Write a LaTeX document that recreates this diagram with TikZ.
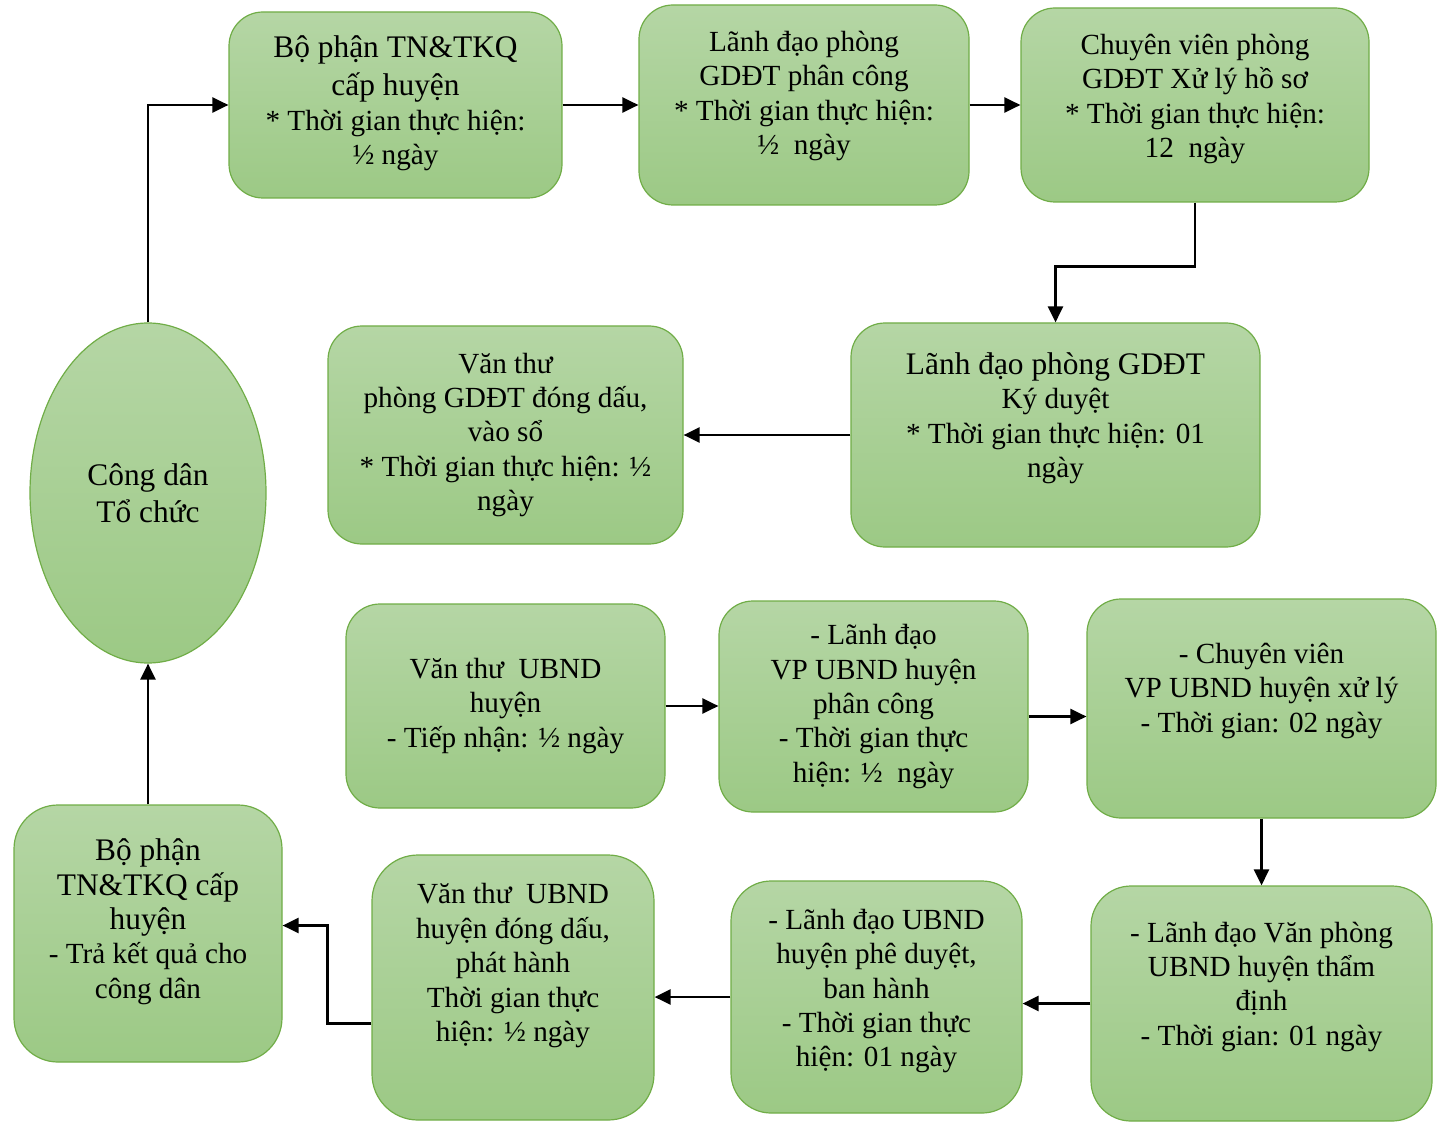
\documentclass[tikz,border=0pt]{standalone}
\usepackage{fontspec}
\setmainfont{Liberation Serif}
\usetikzlibrary{arrows.meta,shapes.geometric}
\definecolor{boxtop}{HTML}{B5D6A5}
\definecolor{boxbot}{HTML}{9CC985}
\definecolor{boxline}{HTML}{70AD47}
\newcommand\bigtxt{\fontsize{15.7}{18.5}\selectfont}

\begin{document}
\begin{tikzpicture}[x=0.5pt,y=-0.5pt,
  box/.style={draw=boxline,line width=0.6pt,top color=boxtop,bottom color=boxbot,
    rounded corners=17pt,align=center,inner sep=0pt,
    font=\fontsize{14.6}{17.2}\selectfont},
  lift/.style={text depth=#1},
  arr/.style={line width=1.2pt,-{Triangle[length=8pt,width=7.5pt]}}]
\useasboundingbox (0,0) rectangle (1438,1128);
% top row
\node [box,lift=5pt,minimum width=166.5pt,minimum height=93pt] (bp1) at (395.5,105)
  {{\bigtxt Bộ phận TN\&TKQ}\\[2pt]{\bigtxt cấp huyện}\\* Thời gian thực hiện:\\½ ngày};
\node [box,lift=12pt,minimum width=165pt,minimum height=100pt] (ld1) at (804,105)
  {Lãnh đạo phòng\\GDĐT phân công\\* Thời gian thực hiện:\\½~ ngày};
\node [box,lift=9pt,minimum width=174pt,minimum height=97pt] (cv1) at (1195,105)
  {Chuyên viên phòng\\GDĐT Xử lý hồ sơ\\* Thời gian thực hiện:\\12~ ngày};
% second row
\node [box,lift=20pt,minimum width=204.5pt,minimum height=112pt] (ld2) at (1055.5,435)
  {{\bigtxt Lãnh đạo phòng GDĐT}\\Ký duyệt\\* Thời gian thực hiện: 01\\ngày};
\node [box,minimum width=177.5pt,minimum height=109pt] (vt1) at (505.5,435)
  {Văn thư\\phòng GDĐT đóng dấu,\\vào sổ\\* Thời gian thực hiện: ½\\ngày};
\node [box,ellipse,font=\bigtxt,minimum width=118pt,minimum height=170pt] (cd) at (148,493)
  {Công dân\\Tổ chức};
% third row
\node [box,minimum width=159.5pt,minimum height=102pt] (vt2) at (505.5,706)
  {Văn thư~ UBND\\huyện\\- Tiếp nhận: ½ ngày};
\node [box,minimum width=154.5pt,minimum height=105.5pt] (ld3) at (873.5,706.5)
  {- Lãnh đạo\\VP UBND huyện\\phân công\\- Thời gian thực\\hiện: ½~ ngày};
\node [box,lift=21pt,minimum width=174.5pt,minimum height=109.5pt] (cv2) at (1261.5,708.5)
  {- Chuyên viên\\VP UBND huyện xử lý\\- Thời gian: 02 ngày};
% bottom row
\node [box,lift=20pt,rounded corners=20pt,minimum width=170.5pt,minimum height=117.5pt] (ld4) at (1261.5,1003.5)
  {- Lãnh đạo Văn phòng\\UBND huyện thẩm\\định\\- Thời gian: 01 ngày};
\node [box,lift=9pt,rounded corners=20pt,minimum width=145.5pt,minimum height=116pt] (ld5) at (876.5,997)
  {- Lãnh đạo UBND\\huyện phê duyệt,\\ban hành\\- Thời gian thực\\hiện: 01 ngày};
\node [box,lift=25pt,rounded corners=23pt,minimum width=141pt,minimum height=132.5pt] (vt3) at (513,987.5)
  {Văn thư~ UBND\\huyện đóng dấu,\\phát hành\\Thời gian thực\\hiện: ½ ngày};
\node [box,lift=15pt,rounded corners=22pt,minimum width=134pt,minimum height=128.5pt] (bp2) at (148,933.5)
  {{\bigtxt Bộ phận}\\{\bigtxt TN\&TKQ cấp}\\{\bigtxt huyện}\\- Trả kết quả cho\\công dân};
% arrows
\draw [arr] (cd.north) |- (bp1.west);
\draw [arr] (bp1.east) -- (ld1.west);
\draw [arr] (ld1.east) -- (cv1.west);
\draw [arr] (cv1.south) -- ++(0,64) -| (ld2.north);
\draw [arr] (ld2.west) -- (vt1.east);
\draw [arr] (vt2.east) -- (vt2.east -| ld3.west);
\draw [arr] ([yshift=-5pt]ld3.east) -- ([yshift=-5pt]ld3.east -| cv2.west);
\draw [arr] (cv2.south) -- (ld4.north);
\draw [arr] (ld4.west) -- (ld4.west -| ld5.east);
\draw [arr] (ld5.west) -- (ld5.west -| vt3.east);
\draw [arr] ([yshift=-18pt]vt3.west) -- ++(-44,0) |- ([yshift=4pt]bp2.east);
\draw [arr] (bp2.north) -- (cd.south);
\end{tikzpicture}
\end{document}
